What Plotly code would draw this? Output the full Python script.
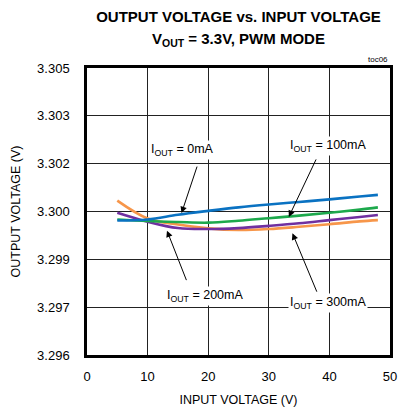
import plotly.graph_objects as go

vin = [5, 10, 15, 20, 25, 30, 35, 40, 45, 48]
v_0ma = [3.30022, 3.30025, 3.30040, 3.30052, 3.30063, 3.30072, 3.30080, 3.30088, 3.30097, 3.30102]
v_100ma = [3.30025, 3.30020, 3.30017, 3.30015, 3.30021, 3.30029, 3.30037, 3.30046, 3.30056, 3.30063]
v_200ma = [3.30046, 3.30018, 3.29998, 3.29995, 3.29998, 3.30005, 3.30013, 3.30023, 3.30033, 3.30039]
v_300ma = [3.30084, 3.30028, 3.30009, 3.29997, 3.29992, 3.29995, 3.30002, 3.30010, 3.30019, 3.30023]

y_tickvals = [3.296, 3.2975, 3.299, 3.3005, 3.302, 3.3035, 3.305]
y_ticktext = ["3.296", "3.297", "3.299", "3.300", "3.302", "3.303", "3.305"]
x_tickvals = [0, 10, 20, 30, 40, 50]

series = [
    ("I<sub>OUT</sub> = 300mA", v_300ma, "#F7964A"),
    ("I<sub>OUT</sub> = 200mA", v_200ma, "#7030A0"),
    ("I<sub>OUT</sub> = 100mA", v_100ma, "#1DA94C"),
    ("I<sub>OUT</sub> = 0mA", v_0ma, "#0A72C2"),
]

FONT = "Liberation Sans, Arial, sans-serif"
TFONT = "Liberation Sans Narrow, Arial Narrow, Liberation Sans, sans-serif"

fig = go.Figure()
for name, ys, col in series:
    fig.add_trace(go.Scatter(x=vin, y=ys, mode="lines", name=name,
                             line=dict(color=col, width=2.6, shape="spline", smoothing=1.0),
                             hoverinfo="skip"))

# arrows (tip on curve, tail offset in px)
arrows = [
    (15.6, 3.30045, 16, -48),
    (33.3, 3.30033, 28, -59),
    (13.2, 3.29990, 20, 51),
    (33.9, 3.29982, 25, 60),
]
for x, y, ax, ay in arrows:
    fig.add_annotation(x=x, y=y, ax=ax, ay=ay, text="", showarrow=True,
                       arrowhead=2, arrowsize=1.3, arrowwidth=1, arrowcolor="black")

labels = [
    (15.8, 3.30243, "I<sub>OUT</sub> = 0mA"),
    (39.7, 3.30255, "I<sub>OUT</sub> = 100mA"),
    (19.4, 3.29785, "I<sub>OUT</sub> = 200mA"),
    (39.7, 3.29763, "I<sub>OUT</sub> = 300mA"),
]
for x, y, t in labels:
    fig.add_annotation(x=x, y=y, text=t, showarrow=False, bgcolor="white",
                       font=dict(family=FONT, size=12.5, color="black"), borderpad=1)

fig.add_annotation(xref="paper", yref="paper", x=1, y=1, xanchor="right", yanchor="bottom",
                   yshift=2, text="toc06", showarrow=False,
                   font=dict(family=FONT, size=8, color="black"))

# second title line
fig.add_annotation(xref="paper", yref="paper", x=0.5, y=1.0976, xanchor="center", yanchor="middle",
                   text="<b>V<sub>OUT</sub> = 3.3V, PWM MODE</b>", showarrow=False,
                   font=dict(family=TFONT, size=15, color="black"))

fig.update_layout(
    width=401, height=409,
    margin=dict(l=87, r=11, t=68, b=54),
    paper_bgcolor="white", plot_bgcolor="white",
    showlegend=False,
    font=dict(family=FONT, size=12, color="black"),
    title=dict(text="<b>OUTPUT VOLTAGE vs. INPUT VOLTAGE</b>",
               x=0.5, xanchor="center", xref="paper", y=1 - 17 / 409, yanchor="middle", yref="container",
               font=dict(family=TFONT, size=15, color="black")),
    xaxis=dict(range=[0, 50], tickvals=x_tickvals, showgrid=True, gridcolor="#222222", gridwidth=1,
               showline=True, linecolor="black", linewidth=2.5, mirror=True, zeroline=False,
               ticks="", ticklabelstandoff=8, automargin=False, tickfont=dict(size=13),
               title=dict(text="INPUT VOLTAGE (V)", standoff=12, font=dict(size=12.5))),
    yaxis=dict(range=[3.296, 3.305], tickvals=y_tickvals, ticktext=y_ticktext,
               showgrid=True, gridcolor="#222222", gridwidth=1,
               showline=True, linecolor="black", linewidth=2.5, mirror=True, zeroline=False,
               ticks="", ticklabelstandoff=12, automargin=False, tickfont=dict(size=13),
               title=dict(text="OUTPUT VOLTAGE (V)", standoff=14, font=dict(size=12.5))),
)

fig.write_html("out.html", post_script="document.body.style.margin='0';",
               config={"displayModeBar": False})
